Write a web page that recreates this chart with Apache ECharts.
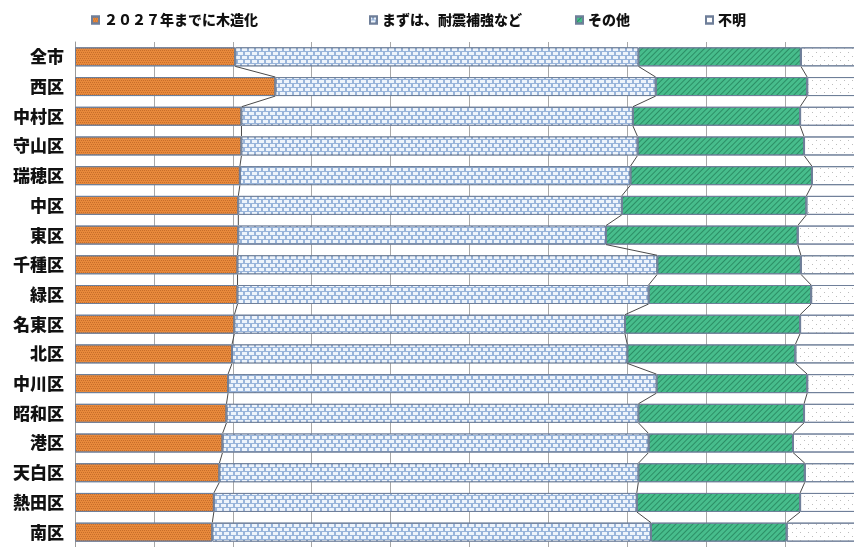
<!DOCTYPE html>
<html>
<head>
<meta charset="utf-8">
<script src="https://cdn.jsdelivr.net/npm/echarts@6/dist/echarts.min.js"></script>
<style>
html,body{margin:0;padding:0;background:#fff;overflow:hidden;}
#chart{width:864px;height:547px;}
</style>
</head>
<body>
<div id="chart"></div>
<script>
const categories = ['全市','西区','中村区','守山区','瑞穂区','中区','東区','千種区','緑区','名東区','北区','中川区','昭和区','港区','天白区','熱田区','南区'];
const seriesNames = ['２０２７年までに木造化','まずは、耐震補強など','その他','不明'];
const mokuzouka = [20.3,25.4,21.1,21.1,20.9,20.7,20.7,20.6,20.6,20.2,19.9,19.4,19.2,18.7,18.3,17.6,17.4];
const taishin   = [51.1,48.2,49.6,50.2,49.5,48.6,46.6,53.2,52.1,49.5,50.1,54.3,52.2,54.0,53.1,53.6,55.6];
const sonota    = [20.6,19.2,21.2,21.1,23.0,23.4,24.3,18.2,20.6,22.2,21.3,19.1,21.0,18.3,21.1,20.7,17.2];
const fumei     = [8.0,7.2,8.1,7.6,6.6,7.3,8.4,8.0,6.7,8.1,8.7,7.2,7.6,9.0,7.5,8.1,9.8];
const xTicks = [0,10,20,30,40,50,60,70,80,90,100];

const BAR_H = 19;
const font = '"Noto Sans CJK JP","Noto Sans",sans-serif';
const border = {borderColor:'#6f7f99', borderWidth:1};

const chart = echarts.init(document.getElementById('chart'));

function connectors(params, api){
  const i = params.dataIndex;
  if (i >= categories.length - 1) return null;
  const cum = j => [mokuzouka[j], mokuzouka[j]+taishin[j], mokuzouka[j]+taishin[j]+sonota[j]];
  const a = cum(i), b = cum(i+1);
  const children = [];
  for (let k=0;k<3;k++){
    const p1 = api.coord([a[k], i]);
    const p2 = api.coord([b[k], i+1]);
    children.push({type:'line', shape:{x1:p1[0], y1:p1[1]+BAR_H/2, x2:p2[0], y2:p2[1]-BAR_H/2},
      style:{stroke:'#4a4a4a', lineWidth:1}});
  }
  return {type:'group', children};
}

const legendCommon = {top:8, itemWidth:7, itemHeight:7, icon:'rect',
  textStyle:{fontFamily:font, fontSize:14, fontWeight:900, color:'#111'}};

chart.setOption({
  animation:false,
  backgroundColor:'#fff',
  legend:[
    Object.assign({left:86, data:[seriesNames[0]]}, legendCommon),
    Object.assign({left:364, data:[seriesNames[1]]}, legendCommon),
    Object.assign({left:570, data:[seriesNames[2]]}, legendCommon),
    Object.assign({left:700, data:[seriesNames[3]]}, legendCommon)
  ],
  grid:{left:75, right:0, top:42, bottom:-2, containLabel:false},
  xAxis:{type:'value', min:xTicks[0], max:xTicks[xTicks.length-1], interval:10,
    axisLabel:{show:false}, axisTick:{show:false}, axisLine:{show:false},
    splitLine:{show:true, lineStyle:{color:'#a8a8a8', width:1}}},
  yAxis:{type:'category', data:categories, inverse:true,
    axisTick:{show:false}, axisLine:{show:true, lineStyle:{color:'#9a9a9a'}},
    axisLabel:{fontFamily:font, fontSize:17, fontWeight:900, color:'#111', margin:11}},
  series:[
    {name:seriesNames[0], type:'bar', stack:'t', barWidth:BAR_H, data:mokuzouka,
      itemStyle:Object.assign({color:'#e8893b',
        decal:{symbol:'rect', symbolSize:1, color:'rgba(150,70,20,0.4)', dashArrayX:[[1,1],[0,1,1,0]], dashArrayY:[1,1]}}, border)},
    {name:seriesNames[1], type:'bar', stack:'t', barWidth:BAR_H, data:taishin,
      itemStyle:Object.assign({color:'#98b4da',
        decal:{symbol:'rect', symbolSize:1, color:'#eef4fb', dashArrayX:[[5,1.5],[2,1.5,3,0]], dashArrayY:[2.5,1]}}, border)},
    {name:seriesNames[2], type:'bar', stack:'t', barWidth:BAR_H, data:sonota,
      itemStyle:Object.assign({color:'#47bd8c',
        decal:{symbol:'rect', symbolSize:1, color:'rgba(25,110,75,0.6)', dashArrayX:[1,0], dashArrayY:[1,3], rotation:-Math.PI/4}}, border)},
    {name:seriesNames[3], type:'bar', stack:'t', barWidth:BAR_H, data:fumei,
      itemStyle:Object.assign({color:'#ffffff',
        decal:{symbol:'circle', symbolSize:1, color:'#a8a8a8', dashArrayX:[[1,7],[0,4,1,3]], dashArrayY:[1,3]}}, border)},
    {name:'connectors', type:'custom', silent:true, z:5,
      data:categories.map((c,i)=>[0,i]), renderItem:connectors}
  ]
});
</script>
</body>
</html>
